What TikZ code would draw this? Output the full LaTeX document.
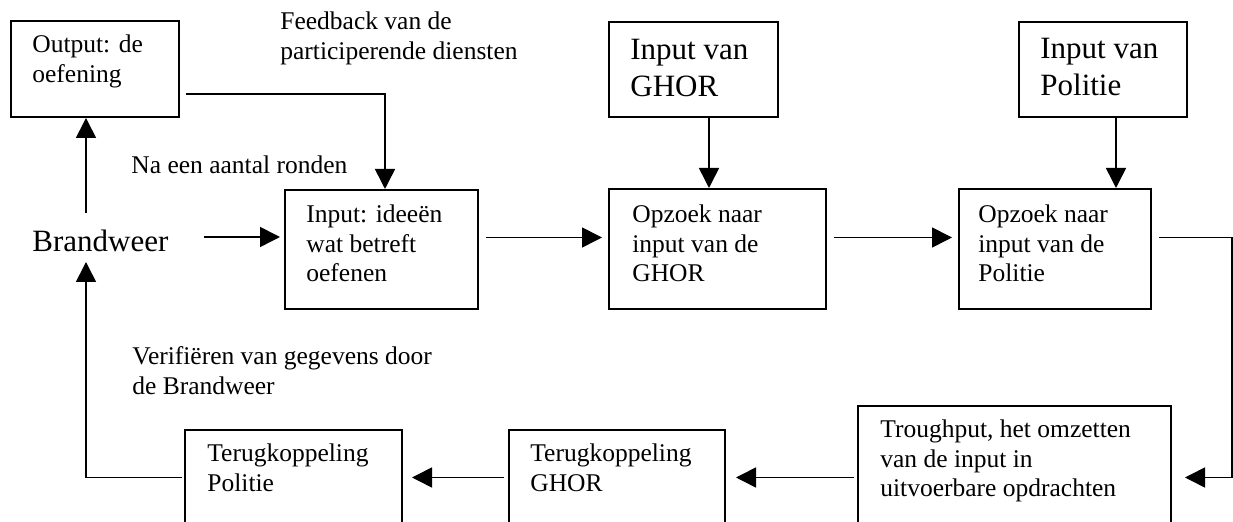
\documentclass[tikz,border=0pt]{standalone}
\usepackage{fontspec}
\setmainfont{Liberation Serif}
\usetikzlibrary{arrows.meta}
\tikzset{
  box/.style={draw, line width=1pt, inner sep=0pt, rectangle},
  txt/.style={anchor=base west, inner sep=0pt, align=left, font=\fontsize{12.75}{14.75}\selectfont},
  bigtxt/.style={anchor=base west, inner sep=0pt, align=left, font=\fontsize{15.5}{18.5}\selectfont},
  arr/.style={-{Triangle[length=10pt,width=10pt]}, line width=0.8pt},
  ln/.style={line width=0.8pt}
}
\begin{document}
\begin{tikzpicture}[x=0.5pt,y=-0.5pt]
\useasboundingbox (0,0) rectangle (1233,522);
\fill[white] (0,0) rectangle (1233,522);
\clip (0,0) rectangle (1233,522);
% boxes
\node[box, minimum width=84pt, minimum height=48pt] (out) at (95,69) {};
\node[box, minimum width=96.5pt, minimum height=59.5pt] (inp) at (381.5,249.5) {};
\node[box, minimum width=108.5pt, minimum height=60pt] (opg) at (717.5,249) {};
\node[box, minimum width=96pt, minimum height=60pt] (opp) at (1055,249) {};
\node[box, minimum width=84.5pt, minimum height=47.5pt] (ghin) at (693.5,69.5) {};
\node[box, minimum width=84pt, minimum height=47.5pt] (poin) at (1103,69.5) {};
\node[box, minimum width=108.5pt, minimum height=65pt] (tp) at (293.5,495) {};
\node[box, minimum width=108pt, minimum height=65pt] (tg) at (617,495) {};
\node[box, minimum width=156.5pt, minimum height=77pt] (tr) at (1014.5,483) {};
% texts (anchor = baseline of last line)
\node[txt] (outT) at (32,82.5) {Output: de\\oefening};
\node[txt] (fbT) at (280,59.5) {Feedback van de\\participerende diensten};
\node[txt] (naT) at (131,174) {Na een aantal ronden};
\node[bigtxt] (brand) at (32,252) {Brandweer};
\node[txt] (inpT) at (306,282) {Input: ideeën\\wat betreft\\oefenen};
\node[bigtxt] (ghinT) at (630,97) {Input van\\GHOR};
\node[bigtxt] (poinT) at (1040,96) {Input van\\Politie};
\node[txt] (opgT) at (632,282) {Opzoek naar\\input van de\\GHOR};
\node[txt] (oppT) at (978,282) {Opzoek naar\\input van de\\Politie};
\node[txt] (verT) at (132,394.5) {Verifiëren van gegevens door\\de Brandweer};
\node[txt] (tpT) at (207,491.5) {Terugkoppeling\\Politie};
\node[txt] (tgT) at (530,491.5) {Terugkoppeling\\GHOR};
\node[txt] (trT) at (880,497) {Troughput, het omzetten\\van de input in\\uitvoerbare opdrachten};
% helper coordinates
\coordinate (p1) at (385,94);
\coordinate (bx) at (86,213);
\coordinate (b2) at (204,237);
\coordinate (b3) at (86,262);
\coordinate (row) at (0,237.5);
\coordinate (gx) at (709,0);
\coordinate (px) at (1116,0);
\coordinate (rx) at (1232,0);
\coordinate (r2) at (0,477.5);
% connectors
\draw[arr, shorten <=3pt] (out.east |- p1) -| (inp.north -| p1);
\draw[arr] (bx) -- (out.south -| bx);
\draw[arr, shorten >=2pt] (b2) -- (inp.west |- b2);
\draw[arr, shorten <=3.5pt, shorten >=3pt] (inp.east |- row) -- (opg.west |- row);
\draw[arr, shorten <=3.5pt, shorten >=3pt] (opg.east |- row) -- (opp.west |- row);
\draw[arr] (ghin.south -| gx) -- (opg.north -| gx);
\draw[arr] (poin.south -| px) -- (opp.north -| px);
\draw[arr, shorten <=3.5pt, shorten >=6.5pt] (opp.east |- row) -| (rx |- r2) -- (tr.east |- r2);
\draw[arr, shorten <=1.5pt, shorten >=5pt] (tr.west |- r2) -- (tg.east |- r2);
\draw[arr, shorten <=2pt, shorten >=4.5pt] (tg.west |- r2) -- (tp.east |- r2);
\draw[arr, shorten <=1pt] (tp.west |- r2) -| (b3);
\end{tikzpicture}
\end{document}
